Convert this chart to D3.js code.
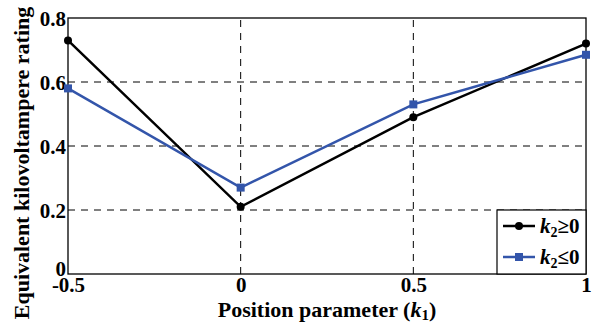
<!DOCTYPE html>
<html>
<head>
<meta charset="utf-8">
<script src="https://cdn.jsdelivr.net/npm/d3@7"></script>
<style>
  body { margin: 0; background: #fff; }
</style>
</head>
<body>
<div id="chart"></div>
<script>
// 数据
const positions = [-0.5, 0, 0.5, 1];
const kvaPositive = [0.73, 0.21, 0.49, 0.72];   // k2 >= 0
const kvaNegative = [0.58, 0.27, 0.53, 0.685];  // k2 <= 0
const xTicks = [-0.5, 0, 0.5, 1];
const yTicks = [0, 0.2, 0.4, 0.6, 0.8];

const width = 594, height = 322;
const margin = { left: 68, right: 8, top: 18, bottom: 48 };
const blue = "#3355aa";
const FONT = "Liberation Serif";

const svg = d3.select("#chart").append("svg")
    .attr("width", width)
    .attr("height", height)
    .attr("font-family", FONT)
    .attr("font-weight", "bold");

const x = d3.scaleLinear().domain([-0.5, 1]).range([margin.left, width - margin.right]);
const y = d3.scaleLinear().domain([0, 0.8]).range([height - margin.bottom, margin.top]);

// 网格线
svg.append("g")
    .selectAll("line")
    .data(xTicks.slice(1, -1))
    .join("line")
    .attr("x1", d => x(d)).attr("x2", d => x(d))
    .attr("y1", y(0)).attr("y2", y(0.8))
    .attr("stroke", "#000").attr("stroke-width", 1).attr("stroke-dasharray", "7,6");

svg.append("g")
    .selectAll("line")
    .data(yTicks.slice(1, -1))
    .join("line")
    .attr("x1", x(-0.5)).attr("x2", x(1))
    .attr("y1", d => y(d)).attr("y2", d => y(d))
    .attr("stroke", "#000").attr("stroke-width", 1).attr("stroke-dasharray", "7,6");

// 坐标轴
svg.append("g")
    .attr("transform", `translate(0,${y(0)})`)
    .call(d3.axisBottom(x).tickValues(xTicks).tickSize(0).tickPadding(3).tickFormat(d => String(d)))
    .call(g => g.attr("font-family", FONT).attr("font-size", 21))
    .call(g => g.select(".domain").remove())
    .selectAll("text").attr("fill", "#000");

svg.append("g")
    .attr("transform", `translate(${x(-0.5)},0)`)
    .call(d3.axisLeft(y).tickValues(yTicks).tickSize(0).tickPadding(2).tickFormat(d => d === 0 ? "0" : d3.format(".1f")(d)))
    .call(g => g.attr("font-family", FONT).attr("font-size", 21))
    .call(g => g.select(".domain").remove())
    .selectAll("text").attr("fill", "#000")
    .attr("dy", d => d === 0 ? "0.05em" : "0.36em");

// 边框
svg.append("rect")
    .attr("x", x(-0.5)).attr("y", y(0.8))
    .attr("width", x(1) - x(-0.5)).attr("height", y(0) - y(0.8))
    .attr("fill", "none").attr("stroke", "#000").attr("stroke-width", 1.3);

// 折线
const series = [
    { name: "pos", values: kvaPositive, color: "#000000", marker: "circle" },
    { name: "neg", values: kvaNegative, color: blue, marker: "square" }
];

const line = d3.line().x((d, i) => x(positions[i])).y(d => y(d));

series.forEach(s => {
    svg.append("path")
        .datum(s.values)
        .attr("d", line)
        .attr("fill", "none")
        .attr("stroke", s.color)
        .attr("stroke-width", 2.5);

    if (s.marker === "circle") {
        svg.append("g").selectAll("circle")
            .data(s.values)
            .join("circle")
            .attr("cx", (d, i) => x(positions[i]))
            .attr("cy", d => y(d))
            .attr("r", 4)
            .attr("fill", s.color);
    } else {
        svg.append("g").selectAll("rect")
            .data(s.values)
            .join("rect")
            .attr("x", (d, i) => x(positions[i]) - 4)
            .attr("y", d => y(d) - 4)
            .attr("width", 8).attr("height", 8)
            .attr("fill", s.color);
    }
});

// 图例
const lg = svg.append("g");
lg.append("rect")
    .attr("x", 497).attr("y", 210)
    .attr("width", x(1) - 497).attr("height", y(0) - 210)
    .attr("fill", "#fff").attr("stroke", "#000").attr("stroke-width", 1.2);

const legendItems = [
    { color: "#000000", marker: "circle", sym: "≥", cy: 226 },
    { color: blue, marker: "square", sym: "≤", cy: 257 }
];
legendItems.forEach(it => {
    lg.append("line")
        .attr("x1", 503).attr("x2", 535)
        .attr("y1", it.cy).attr("y2", it.cy)
        .attr("stroke", it.color).attr("stroke-width", 2.5);
    if (it.marker === "circle") {
        lg.append("circle").attr("cx", 519).attr("cy", it.cy).attr("r", 4).attr("fill", it.color);
    } else {
        lg.append("rect").attr("x", 515).attr("y", it.cy - 4).attr("width", 8).attr("height", 8).attr("fill", it.color);
    }
    const t = lg.append("text")
        .attr("x", 540).attr("y", it.cy + 7)
        .attr("font-size", 21);
    t.append("tspan").attr("font-style", "italic").text("k");
    t.append("tspan").attr("font-size", 14).attr("dy", 4).text("2");
    t.append("tspan").attr("dy", -4).text(it.sym + "0");
});

// 轴标题
const xt = svg.append("text")
    .attr("x", (x(-0.5) + x(1)) / 2).attr("y", 317)
    .attr("text-anchor", "middle")
    .attr("font-size", 22);
xt.append("tspan").text("Position parameter (");
xt.append("tspan").attr("font-style", "italic").text("k");
xt.append("tspan").attr("font-size", 15).attr("dy", 3).text("1");
xt.append("tspan").attr("dy", -3).text(")");

svg.append("text")
    .attr("transform", `translate(29,${163}) rotate(-90)`)
    .attr("text-anchor", "middle")
    .attr("font-size", 22)
    .text("Equivalent kilovoltampere rating");
</script>
</body>
</html>
